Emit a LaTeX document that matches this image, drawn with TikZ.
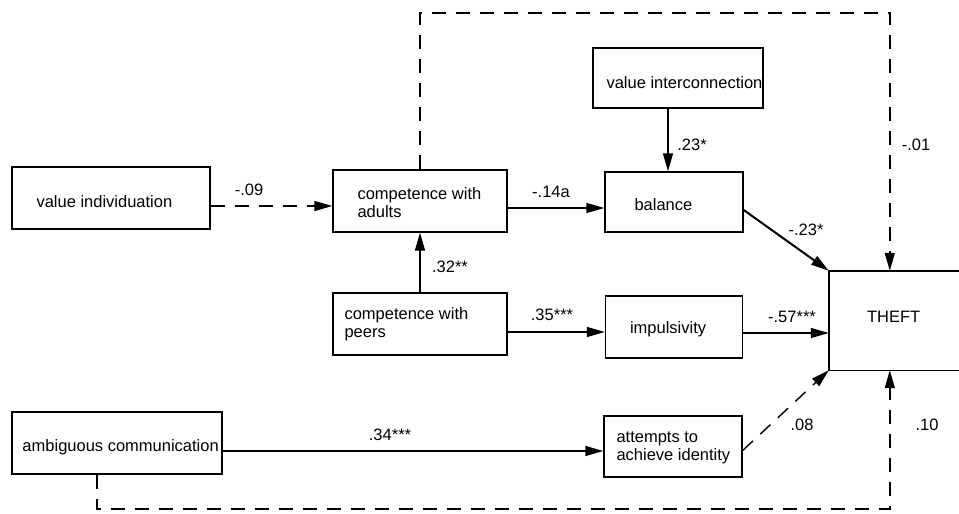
\documentclass[tikz,border=0pt]{standalone}
\usepackage{fontspec}
\setmainfont{Liberation Sans}
\usetikzlibrary{arrows.meta,calc}

\begin{document}
\begin{tikzpicture}[x=1pt,y=-1pt,
  every node/.style={font=\fontsize{16.5}{18}\selectfont},
  box/.style={draw, line width=1.4pt, inner sep=0pt},
  txt/.style={inner sep=0pt, align=left, anchor=west},
  lbl/.style={inner sep=0pt},
  link/.style={line width=1.4pt, -{Triangle[length=18pt,width=10pt]}},
  dlink/.style={link, dash pattern=on 14pt off 10pt},
]
\useasboundingbox (0,0) rectangle (959,514);

% variable boxes
\node[box, minimum width=198pt, minimum height=62pt] (vi)       at (111,198)   {};
\node[box, minimum width=174pt, minimum height=62pt] (adults)   at (420,201)   {};
\node[box, minimum width=170pt, minimum height=60pt] (vint)     at (678,78)    {};
\node[box, minimum width=138pt, minimum height=60pt] (balance)  at (674,202)   {};
\node[box, minimum width=174pt, minimum height=62pt] (peers)    at (420,324)   {};
\node[box, minimum width=137pt, minimum height=62pt] (impuls)   at (674,327)   {};
% the outcome box is open on the right, at the page edge
\node[inner sep=0pt, minimum width=130pt, minimum height=99pt] (theft) at (894,320.5) {};
\draw[line width=1.4pt] (theft.north east) -- (theft.north west)
  -- (theft.south west) -- (theft.south east);
\node[box, minimum width=210pt, minimum height=62pt] (ambig)    at (117,443)   {};
\node[box, minimum width=138pt, minimum height=61pt] (attempts) at (673,446.5) {};

% box texts
\node[txt] (vitext)  at ([xshift=25pt,yshift=-4pt]vi.west) {value individuation};
\node[txt] (adtext)  at ([xshift=25pt,yshift=-2pt]adults.west) {competence with\\adults};
\node[txt] (vitx)    at ([xshift=14pt,yshift=-5pt]vint.west) {value interconnection};
\node[txt] (baltext) at ([xshift=30pt,yshift=-3pt]balance.west) {balance};
\node[txt] (petext)  at ([xshift=12pt]peers.west) {competence with\\peers};
\node[txt] (imtext)  at ([xshift=25pt,yshift=-2pt]impuls.west) {impulsivity};
\node[txt] (thtext)  at ([xshift=38pt,yshift=4pt]theft.west) {THEFT};
\node[txt] (amtext)  at ([xshift=11pt,yshift=-4pt]ambig.west) {ambiguous communication};
\node[txt] (attext)  at ([xshift=13pt,yshift=-1.5pt]attempts.west) {attempts to\\achieve identity};

% paths
\draw[dlink] ([yshift=-8pt]vi.east) -- ([yshift=-8pt]vi.east -| adults.west);
\draw[link] ([yshift=-7pt]adults.east) -- ([yshift=-7pt]adults.east -| balance.west);
\draw[link] ([xshift=-10pt]vint.south) -- ([xshift=-10pt]vint.south |- balance.north);
\draw[link] (peers.north) -- (adults.south);
\draw[link] ([yshift=-8pt]peers.east) -- ([yshift=-8pt]peers.east -| impuls.west);
\draw[link] ([yshift=-6pt]impuls.east) -- ([yshift=-6pt]impuls.east -| theft.west);
\draw[link, line width=2pt] ([yshift=-8pt]balance.east) -- (theft.north west);
\draw[link] ([yshift=-8pt]ambig.east) -- ([yshift=-8pt]ambig.east -| attempts.west);
\draw[dlink] ([yshift=-4pt]attempts.east) -- (theft.south west);

% direct paths routed round the model
\coordinate (toprail) at (0,13);
\coordinate (tin) at ($(theft.north west)+(61,0)$);
\draw[dlink] (adults.north) |- (toprail -| tin) -- (tin);
\coordinate (botrail) at (0,509);
\coordinate (bin) at ($(theft.south west)+(61,0)$);
\draw[dlink] ([xshift=-20pt]ambig.south) |- (botrail -| bin) -- (bin);

% path coefficients
\node[lbl] (c09)  at (249,190) {-.09};
\node[lbl] (c14)  at (551,192) {-.14a};
\node[lbl] (c23a) at (692,145) {.23*};
\node[lbl] (c32)  at (450,267) {.32**};
\node[lbl] (c35)  at (552,315) {.35***};
\node[lbl] (c57)  at (792,317) {-.57***};
\node[lbl] (c23b) at (806,230) {-.23*};
\node[lbl] (c01)  at (916,145) {-.01};
\node[lbl] (c34)  at (390,435) {.34***};
\node[lbl] (c08)  at (802,425) {.08};
\node[lbl] (c10)  at (927,425) {.10};
\end{tikzpicture}
\end{document}
